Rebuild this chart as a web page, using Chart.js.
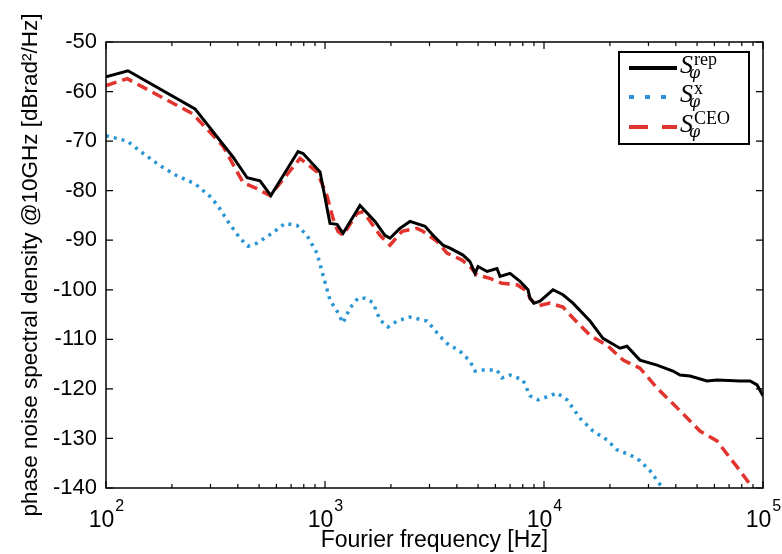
<!DOCTYPE html>
<html>
<head>
<meta charset="utf-8">
<script src="https://cdn.jsdelivr.net/npm/chart.js@4/dist/chart.umd.min.js"></script>
<style>
  body { margin: 0; background: #fff; }
  canvas { display: block; }
</style>
</head>
<body>
<canvas id="myChart" width="782" height="554"></canvas>
<script>
// S_phi^rep (black)
const repFreq = [100, 126, 255, 380, 441, 505, 566, 753, 794, 949, 1054, 1135, 1209, 1445, 1692, 1878, 1981, 2198, 2444, 2862,
    3113, 3456, 3722, 4267, 4592, 4842, 4999, 5496, 6100, 6297, 6997, 7770, 8450, 8630, 9000, 9590, 10990, 12210, 13560,
    16220, 18590, 22230, 23930, 27420, 32810, 38810, 41780, 46430, 55500, 61660, 78550, 87290, 93970, 100000];
const repVal = [-57, -55.8, -63.5, -73.2, -77.4, -78, -81, -72.1, -72.5, -76.2, -86.6, -86.8, -88.6, -83, -86.2, -89, -89.6, -87.6, -86.2, -87.2,
    -89, -91, -91.6, -93, -94.3, -96.7, -95.3, -96.3, -95.7, -97.3, -96.7, -98.3, -100, -101.7, -102.7, -102.3, -100, -101, -102.7,
    -106.3, -109.8, -111.8, -111.4, -114.2, -115.2, -116.4, -117.2, -117.4, -118.4, -118.2, -118.4, -118.4, -119.2, -121.4];

// S_phi^x (blue dotted)
const xFreq = [100, 125, 148, 177, 211, 255, 299, 324, 360, 409, 445, 489, 573, 657, 745, 827, 919, 979, 1054, 1135, 1209,
    1300, 1415, 1524, 1657, 1783, 1940, 2133, 2444, 2924, 3113, 3350, 3604, 4130, 4592, 4842, 5260, 6100, 6425, 6997, 8016,
    8630, 9400, 10650, 11460, 12730, 14590, 16740, 19410, 21530, 24700, 27420, 30480, 33880, 38400];
const xVal = [-68.9, -70, -72.5, -75, -77, -78.6, -81.2, -83, -86.2, -89.6, -91.2, -90.6, -88.6, -86.6, -87, -89, -92.6, -97, -102.1, -104.3, -106.7,
    -103.7, -101.7, -101.7, -102.6, -106.1, -107.5, -106.3, -105.5, -106.3, -107.7, -109.4, -110.8, -112.4, -114.4, -116.4, -116.2, -116.2, -117.8, -117.2, -118.2,
    -121.4, -122.2, -121.4, -120.8, -122.2, -125.9, -128.5, -130.3, -132.3, -133.3, -134.5, -136.5, -139.3, -142];

// S_phi^CEO (red dashed)
const ceoFreq = [100, 125, 249, 342, 423, 489, 561, 769, 919, 1021, 1088, 1146, 1209, 1400, 1492, 1783, 1981, 2249, 2632, 2800,
    3244, 3604, 4225, 4592, 4941, 5667, 6425, 7531, 8365, 8630, 9290, 10650, 12210, 13560, 16220, 19410, 22970, 27420,
    32810, 41780, 51520, 61660, 70630, 78550, 87290, 96900];
const ceoVal = [-58.8, -57.4, -64.5, -71, -78.4, -79.6, -81, -73.5, -76.2, -81, -85.6, -88.2, -89, -84.6, -84.2, -89, -91, -88.2, -87.6, -88.2,
    -90.2, -92.6, -94, -95.3, -97, -97.7, -98.7, -99, -100.3, -101.7, -103.3, -102.7, -103.5, -105.7, -109.2, -111.2, -114.2, -115.8,
    -119.8, -124.4, -128.5, -130.5, -133.9, -136.5, -139.3, -142];

const xTickExp = [2, 3, 4, 5];
const yTickVals = [-140, -130, -120, -110, -100, -90, -80, -70, -60, -50];

const seriesNames = ['rep', 'x', 'CEO'];
const colors = ['#000000', 'rgb(40,150,212)', 'rgb(226,52,46)'];

function toPoints(freq, vals) {
    return freq.map((f, i) => ({x: f, y: vals[i]}));
}

const boxAndTicks = {
    id: 'boxAndTicks',
    afterDatasetsDraw(chart) {
        const ctx = chart.ctx;
        const a = chart.chartArea;
        const xs = chart.scales.x;
        const ys = chart.scales.y;
        ctx.save();
        ctx.strokeStyle = '#000';
        ctx.lineWidth = 1.5;
        ctx.strokeRect(a.left, a.top, a.right - a.left, a.bottom - a.top);

        // inward ticks, log minor ticks too
        ctx.lineWidth = 1.2;
        ctx.beginPath();
        for (let k = 2; k <= 5; k++) {
            for (let m = 1; m <= 9; m++) {
                const v = m * Math.pow(10, k);
                if (v > 100000) break;
                const px = xs.getPixelForValue(v);
                const len = m === 1 ? 7 : 4;
                ctx.moveTo(px, a.bottom);
                ctx.lineTo(px, a.bottom - len);
                ctx.moveTo(px, a.top);
                ctx.lineTo(px, a.top + len);
            }
        }
        yTickVals.forEach(v => {
            const py = ys.getPixelForValue(v);
            ctx.moveTo(a.left, py);
            ctx.lineTo(a.left + 7, py);
            ctx.moveTo(a.right, py);
            ctx.lineTo(a.right - 7, py);
        });
        ctx.stroke();

        // x tick labels 10^n
        ctx.fillStyle = '#000';
        ctx.textBaseline = 'alphabetic';
        xTickExp.forEach(e => {
            const px = xs.getPixelForValue(Math.pow(10, e));
            ctx.font = '23px "Liberation Sans", Arial, sans-serif';
            const w1 = ctx.measureText('10').width;
            ctx.font = '16px "Liberation Sans", Arial, sans-serif';
            const w2 = ctx.measureText(String(e)).width;
            const x0 = px - (w1 + w2) / 2;
            ctx.textAlign = 'left';
            ctx.font = '23px "Liberation Sans", Arial, sans-serif';
            ctx.fillText('10', x0, 527);
            ctx.font = '16px "Liberation Sans", Arial, sans-serif';
            ctx.fillText(String(e), x0 + w1 + 1, 511);
        });

        // legend
        const lx = 619, ly = 52, lw = 130, lh = 92;
        ctx.fillStyle = '#fff';
        ctx.fillRect(lx, ly, lw, lh);
        ctx.lineWidth = 2;
        ctx.strokeStyle = '#000';
        ctx.strokeRect(lx, ly, lw, lh);
        const rows = [68, 97, 127];
        const dashes = [[], [5, 11], [19, 14]];
        const ends = [677, 668, 677];
        rows.forEach((y, i) => {
            ctx.beginPath();
            ctx.setLineDash(dashes[i]);
            ctx.strokeStyle = colors[i];
            ctx.lineWidth = 4;
            ctx.moveTo(629, y);
            ctx.lineTo(ends[i], y);
            ctx.stroke();
            ctx.setLineDash([]);
            ctx.fillStyle = '#000';
            ctx.font = 'italic 26px "Liberation Serif", serif';
            ctx.fillText('S', 680, y + 5);
            ctx.font = '18px "Liberation Serif", serif';
            ctx.fillText(seriesNames[i], 694, y - 3);
            ctx.font = 'italic 16px "DejaVu Serif", serif';
            ctx.fillText('\u03C6', 689, y + 10);
        });
        ctx.restore();
    }
};

const data = {
    datasets: [
        {
            label: 'rep',
            data: toPoints(repFreq, repVal),
            borderColor: colors[0],
            borderWidth: 3,
        },
        {
            label: 'x',
            data: toPoints(xFreq, xVal),
            borderColor: colors[1],
            borderWidth: 3.5,
            borderDash: [3, 5],
        },
        {
            label: 'CEO',
            data: toPoints(ceoFreq, ceoVal),
            borderColor: colors[2],
            borderWidth: 3.5,
            borderDash: [11, 6],
        },
    ]
};

const config = {
    type: 'line',
    data: data,
    options: {
        responsive: false,
        animation: false,
        elements: {
            point: { radius: 0 },
            line: { tension: 0, fill: false }
        },
        layout: { padding: { top: 42, right: 19, left: 0, bottom: 0 } },
        plugins: {
            legend: { display: false },
            tooltip: { enabled: false }
        },
        scales: {
            x: {
                type: 'logarithmic',
                min: 100,
                max: 100000,
                grid: { display: false, drawTicks: false },
                border: { display: false },
                ticks: { display: false },
                title: {
                    display: true,
                    text: 'Fourier frequency [Hz]',
                    color: '#000',
                    font: { family: '"Liberation Sans", Arial, sans-serif', size: 23 },
                    padding: { top: 0, bottom: 0 }
                },
                afterFit(scale) { scale.height = 66; }
            },
            y: {
                min: -140,
                max: -50,
                grid: { display: false, drawTicks: false },
                border: { display: false },
                ticks: {
                    stepSize: 10,
                    color: '#000',
                    padding: 9,
                    font: { family: '"Liberation Sans", Arial, sans-serif', size: 22 }
                },
                title: {
                    display: true,
                    text: 'phase noise spectral density @10GHz [dBrad\u00B2/Hz]',
                    color: '#000',
                    font: { family: '"Liberation Sans", Arial, sans-serif', size: 22.5 },
                    padding: { top: 17, bottom: 0 }
                },
                afterFit(scale) { scale.width = 106; }
            }
        }
    },
    plugins: [boxAndTicks]
};

var myChart = new Chart(
    document.getElementById('myChart'),
    config
);
</script>
</body>
</html>
